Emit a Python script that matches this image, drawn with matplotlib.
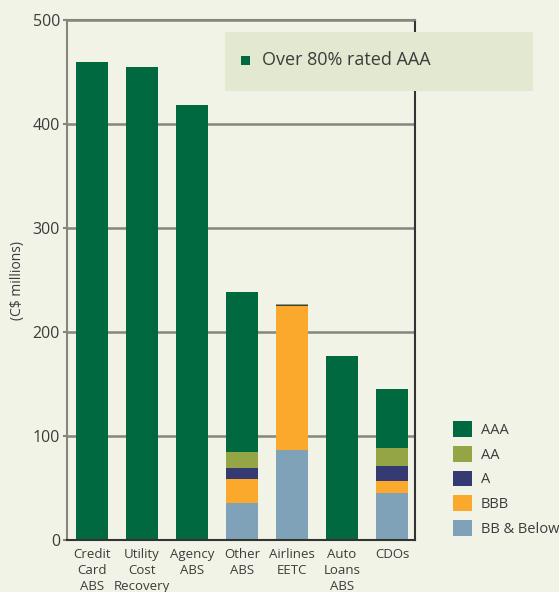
import matplotlib
matplotlib.use("Agg")
import matplotlib.pyplot as plt
import numpy as np

categories = ["Credit\nCard\nABS", "Utility\nCost\nRecovery", "Agency\nABS", "Other\nABS",
              "Airlines\nEETC", "Auto\nLoans\nABS", "CDOs"]
ratings = ["AAA", "AA", "A", "BBB", "BB & Below"]
bb_below = [0, 0, 0, 36, 87, 0, 45]
bbb = [0, 0, 0, 23, 138, 0, 12]
a = [0, 0, 0, 10, 1, 0, 14]
aa = [0, 0, 0, 16, 0.5, 0, 17]
aaa = [460, 455, 418, 153, 0, 177, 57]
yticks = [0, 100, 200, 300, 400, 500]
note = "Over 80% rated AAA"

colors = {"AAA": "#006940", "AA": "#94a545", "A": "#363a73", "BBB": "#fba92d", "BB & Below": "#7fa2b9"}
bg = "#f1f3e7"
txt = "#3c3c3c"

plt.rcParams['font.family'] = ['Open Sans', 'DejaVu Sans']

fig = plt.figure(figsize=(5.59, 5.92), dpi=100, facecolor=bg)
ax = fig.add_axes([67/559, 52/592, 348/559, 520/592], facecolor=bg)

x = np.arange(len(categories))
w = 0.64
stack = [("BB & Below", bb_below), ("BBB", bbb), ("A", a), ("AA", aa), ("AAA", aaa)]
bottom = np.zeros(len(categories))
handles = {}
for name, vals in stack:
    v = np.array(vals, dtype=float)
    h = ax.bar(x, v, w, bottom=bottom, color=colors[name], zorder=3, linewidth=0)
    handles[name] = h
    bottom += v

ax.set_xlim(-0.5, 6.46)
ax.set_ylim(0, 500)
ax.set_yticks(yticks)
ax.yaxis.grid(True, color="#85857d", linewidth=1.8, zorder=1)
ax.tick_params(axis='y', length=3, width=1.5, color="#85857d", labelsize=11.5, labelcolor=txt, pad=2)
ax.tick_params(axis='x', length=0, labelsize=9.5, labelcolor=txt, pad=6)
ax.set_xticks(x)
ax.set_xticklabels(categories, linespacing=1.3, va='top')
for s in ["left", "top"]:
    ax.spines[s].set_color("#85857d")
    ax.spines[s].set_linewidth(1.5)
for s in ["right", "bottom"]:
    ax.spines[s].set_color("#333333")
    ax.spines[s].set_linewidth(1.5)
ax.spines["bottom"].set_zorder(4)

fig.text(18/559, 1 - 280/592, "(C$ millions)", rotation=90, ha='center', va='center',
         fontsize=10, color=txt)

# annotation box
fig.patches.append(plt.Rectangle((225/559, 1 - 91/592), 308/559, 59/592,
                                 transform=fig.transFigure, facecolor="#e3e8d0",
                                 edgecolor='none', zorder=5))
fig.patches.append(plt.Rectangle((241/559, 1 - 65/592), 9/559, 9/592,
                                 transform=fig.transFigure, facecolor=colors["AAA"],
                                 edgecolor='none', zorder=6))
fig.text(262/559, 1 - 60/592, note, ha='left', va='center', fontsize=13, color=txt, zorder=7)

order = ["AAA", "AA", "A", "BBB", "BB & Below"]
leg = fig.legend([handles[n] for n in order], order, loc='upper left',
                 bbox_to_anchor=(447/559, 1 - 415/592), frameon=False, fontsize=10.5,
                 handlelength=1.3, handleheight=1.3, handletextpad=0.6, labelspacing=0.55,
                 borderaxespad=0)
for t in leg.get_texts():
    t.set_color(txt)

fig.savefig("out.png", dpi=100, facecolor=bg)
